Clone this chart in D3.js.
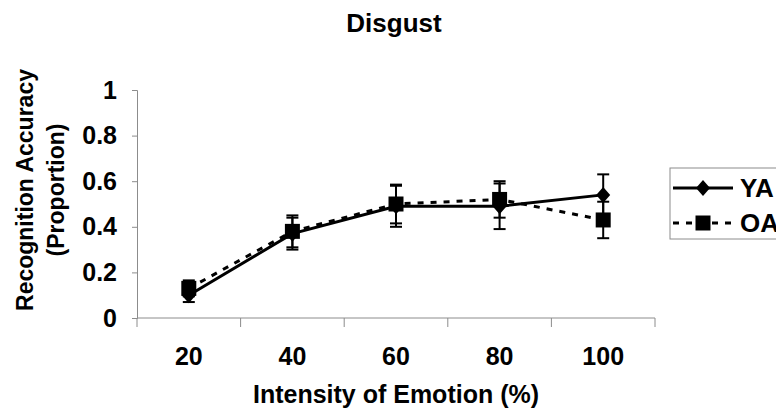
<!DOCTYPE html>
<html>
<head>
<meta charset="utf-8">
<script src="https://cdn.jsdelivr.net/npm/d3@7"></script>
<style>
  body { margin: 0; background: #fff; }
  svg { font-family: "Liberation Sans", Arial, sans-serif; font-weight: bold; }
</style>
</head>
<body>
<div id="vis"></div>
<script>
// chart data
const CATEGORIES = ["20", "40", "60", "80", "100"];
const YA_VALUES = [0.10, 0.37, 0.49, 0.49, 0.54];
const YA_ERRORS = [0.03, 0.07, 0.09, 0.10, 0.09];
const OA_VALUES = [0.13, 0.38, 0.50, 0.52, 0.43];
const OA_ERRORS = [0.035, 0.07, 0.085, 0.08, 0.08];
const Y_TICKS = [0, 0.2, 0.4, 0.6, 0.8, 1];

const FRAME_WIDTH = 776;
const FRAME_HEIGHT = 420;
const MARGINS = {left: 137, right: 121, top: 90, bottom: 102};

const FRAME = d3.select("#vis")
                .append("svg")
                    .attr("width", FRAME_WIDTH)
                    .attr("height", FRAME_HEIGHT);

const X_SCALE = d3.scaleBand()
                    .domain(CATEGORIES)
                    .range([MARGINS.left, FRAME_WIDTH - MARGINS.right]);

const Y_SCALE = d3.scaleLinear()
                    .domain([0, 1])
                    .range([FRAME_HEIGHT - MARGINS.bottom, MARGINS.top]);

const cx = (i) => X_SCALE(CATEGORIES[i]) + X_SCALE.bandwidth() / 2;

// y axis
const yAxis = FRAME.append("g")
    .attr("transform", "translate(" + MARGINS.left + ",0)")
    .call(d3.axisLeft(Y_SCALE).tickValues(Y_TICKS).tickSize(5).tickPadding(15)
            .tickFormat((d) => d === 0 || d === 1 ? d : d3.format(".1f")(d)));
yAxis.selectAll("line, path").attr("stroke", "#8c8c8c");
yAxis.selectAll("text").attr("font-size", 25).attr("fill", "#000")
    .attr("font-family", "Liberation Sans, Arial, sans-serif").attr("font-weight", "bold");

// x axis: ticks on band edges
const xAxis = FRAME.append("g")
    .attr("transform", "translate(0," + Y_SCALE(0) + ")");
xAxis.append("line")
    .attr("x1", MARGINS.left).attr("x2", FRAME_WIDTH - MARGINS.right)
    .attr("stroke", "#8c8c8c");
const edges = CATEGORIES.map((c) => X_SCALE(c)).concat([X_SCALE.range()[1]]);
xAxis.selectAll(".xt").data(edges).enter().append("line")
    .attr("x1", (d) => d).attr("x2", (d) => d)
    .attr("y1", 0).attr("y2", 9)
    .attr("stroke", "#8c8c8c");
xAxis.selectAll(".xl").data(CATEGORIES).enter().append("text")
    .attr("x", (d, i) => cx(i)).attr("y", 47)
    .attr("text-anchor", "middle").attr("font-size", 25)
    .text((d) => d);

// series drawing
function drawSeries(values, errors, dash, marker) {
    const g = FRAME.append("g");
    const line = d3.line().x((d, i) => cx(i)).y((d) => Y_SCALE(d));

    // error bars
    values.forEach((v, i) => {
        const x = cx(i);
        g.append("line")
            .attr("x1", x).attr("x2", x)
            .attr("y1", Y_SCALE(v - errors[i])).attr("y2", Y_SCALE(v + errors[i]))
            .attr("stroke", "#000").attr("stroke-width", 2);
        [v - errors[i], v + errors[i]].forEach((e) => {
            g.append("line")
                .attr("x1", x - 6).attr("x2", x + 6)
                .attr("y1", Y_SCALE(e)).attr("y2", Y_SCALE(e))
                .attr("stroke", "#000").attr("stroke-width", 2);
        });
    });

    g.append("path")
        .datum(values)
        .attr("d", line)
        .attr("fill", "none")
        .attr("stroke", "#000")
        .attr("stroke-width", 3)
        .attr("stroke-dasharray", dash);

    g.selectAll(".m").data(values).enter().append("path")
        .attr("transform", (d, i) => "translate(" + cx(i) + "," + Y_SCALE(d) + ")")
        .attr("d", marker)
        .attr("fill", "#000");
}

const DIAMOND = "M0,-8L7,0L0,8L-7,0Z";
const SQUARE = "M-7.5,-7.5H7.5V7.5H-7.5Z";

drawSeries(OA_VALUES, OA_ERRORS, "6,7", SQUARE);
drawSeries(YA_VALUES, YA_ERRORS, null, DIAMOND);

// title
FRAME.append("text")
    .attr("x", 394).attr("y", 32)
    .attr("text-anchor", "middle").attr("font-size", 26)
    .text("Disgust");

// x axis title
FRAME.append("text")
    .attr("x", 396).attr("y", 403)
    .attr("text-anchor", "middle").attr("font-size", 25)
    .text("Intensity of Emotion (%)");

// y axis title
const yTitle = FRAME.append("text")
    .attr("transform", "translate(33,190) rotate(-90)")
    .attr("text-anchor", "middle").attr("font-size", 23);
yTitle.append("tspan").attr("x", 0).attr("dy", 0).text("Recognition Accuracy");
yTitle.append("tspan").attr("x", 0).attr("dy", 31).text("(Proportion)");

// legend
const LEGEND = FRAME.append("g");
LEGEND.append("rect")
    .attr("x", 670).attr("y", 168)
    .attr("width", 120).attr("height", 71)
    .attr("fill", "#fff").attr("stroke", "#8c8c8c");

const legendItems = [
    {name: "YA", dash: null, marker: DIAMOND, y: 188},
    {name: "OA", dash: "6,7", marker: SQUARE, y: 223}
];
legendItems.forEach((d) => {
    LEGEND.append("line")
        .attr("x1", 673).attr("x2", 733)
        .attr("y1", d.y).attr("y2", d.y)
        .attr("stroke", "#000").attr("stroke-width", 3)
        .attr("stroke-dasharray", d.dash);
    LEGEND.append("path")
        .attr("transform", "translate(703," + d.y + ")")
        .attr("d", d.marker).attr("fill", "#000");
    LEGEND.append("text")
        .attr("x", 740).attr("y", d.y + 9)
        .attr("font-size", 26)
        .text(d.name);
});
</script>
</body>
</html>
